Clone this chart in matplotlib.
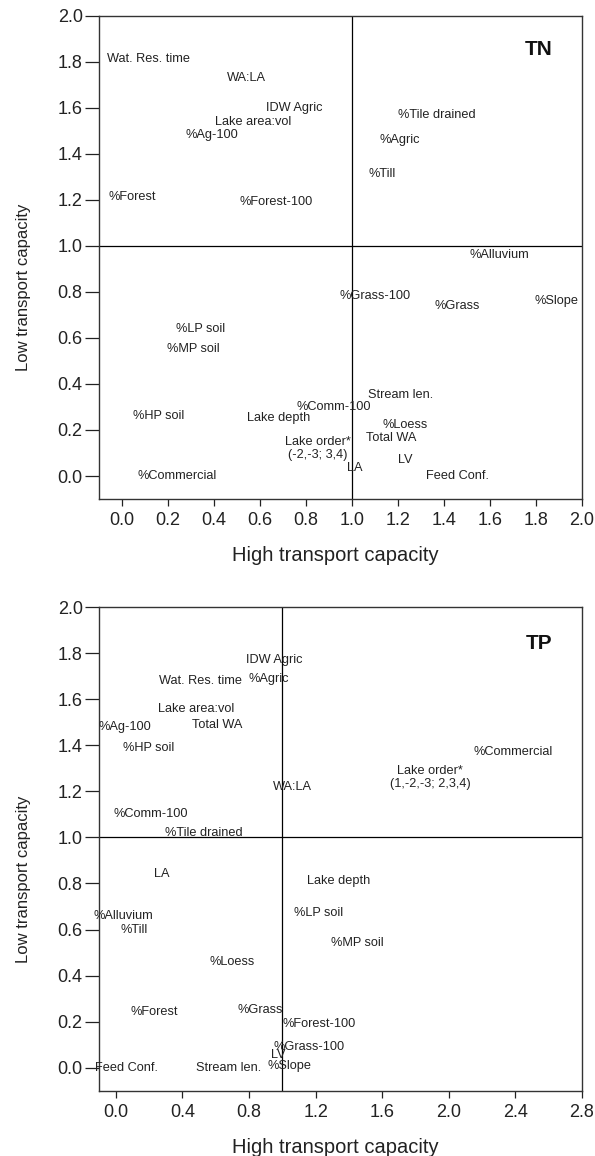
import matplotlib
matplotlib.use('Agg')
import matplotlib.pyplot as plt

plt.rcParams['font.family'] = ['Liberation Sans', 'DejaVu Sans']

# TN panel
tn_labels = ['Wat. Res. time', 'WA:LA', 'IDW Agric', 'Lake area:vol', '%Ag-100',
             '%Forest', '%Forest-100', '%Tile drained', '%Agric', '%Till',
             '%LP soil', '%MP soil', '%HP soil', '%Commercial', 'Lake depth',
             '%Comm-100', 'Lake order*\n(-2,-3; 3,4)', '%Alluvium', '%Grass-100',
             '%Grass', '%Slope', 'Stream len.', '%Loess', 'Total WA', 'LV', 'LA',
             'Feed Conf.']
tn_x = [0.115, 0.54, 0.75, 0.57, 0.39, 0.045, 0.67, 1.37, 1.21, 1.13,
        0.34, 0.31, 0.16, 0.24, 0.68, 0.92, 0.85, 1.64, 1.10, 1.46, 1.89,
        1.21, 1.23, 1.17, 1.23, 1.01, 1.46]
tn_y = [1.81, 1.73, 1.60, 1.54, 1.48, 1.21, 1.19, 1.57, 1.46, 1.31,
        0.64, 0.55, 0.26, 0.00, 0.25, 0.30, 0.12, 0.96, 0.78, 0.74, 0.76,
        0.35, 0.22, 0.165, 0.07, 0.035, 0.00]

# TP panel
tp_labels = ['IDW Agric', '%Agric', 'Wat. Res. time', 'Lake area:vol', 'Total WA',
             '%Ag-100', '%HP soil', 'WA:LA', '%Comm-100', '%Tile drained',
             'Lake order*\n(1,-2,-3; 2,3,4)', '%Commercial', 'LA', '%Alluvium',
             '%Till', '%Loess', '%Forest', '%Grass', '%Forest-100', '%Grass-100',
             'LV', '%Slope', 'Stream len.', 'Feed Conf.', 'Lake depth',
             '%LP soil', '%MP soil']
tp_x = [0.95, 0.92, 0.51, 0.48, 0.61, 0.054, 0.195, 1.06, 0.21, 0.53,
        1.89, 2.39, 0.275, 0.046, 0.108, 0.70, 0.233, 0.87, 1.22, 1.16,
        0.974, 1.046, 0.68, 0.062, 1.34, 1.22, 1.45]
tp_y = [1.77, 1.69, 1.68, 1.56, 1.49, 1.48, 1.39, 1.22, 1.10, 1.02,
        1.26, 1.37, 0.84, 0.66, 0.60, 0.46, 0.24, 0.25, 0.19, 0.09,
        0.053, 0.007, 0.00, 0.00, 0.81, 0.67, 0.54]

tn_xticks = [0.0, 0.2, 0.4, 0.6, 0.8, 1.0, 1.2, 1.4, 1.6, 1.8, 2.0]
tp_xticks = [0.0, 0.4, 0.8, 1.2, 1.6, 2.0, 2.4, 2.8]
yticks = [0.0, 0.2, 0.4, 0.6, 0.8, 1.0, 1.2, 1.4, 1.6, 1.8, 2.0]

fig = plt.figure(figsize=(5.95, 11.56), dpi=100)
ax1 = fig.add_axes([0.1669, 0.5683, 0.8108, 0.4182])
ax2 = fig.add_axes([0.1669, 0.0565, 0.8108, 0.4182])

panels = [
    (ax1, tn_labels, tn_x, tn_y, tn_xticks, (-0.1, 2.0), 'TN', 0.930),
    (ax2, tp_labels, tp_x, tp_y, tp_xticks, (-0.1, 2.8), 'TP', 0.924),
]

for ax, labels, xs, ys, xt, xlim, name, ny in panels:
    ax.set_xlim(*xlim)
    ax.set_ylim(-0.1, 2.0)
    ax.axhline(1.0, color='black', lw=0.9)
    ax.axvline(1.0, color='black', lw=0.9)
    for lab, x, y in zip(labels, xs, ys):
        ax.text(x, y, lab, ha='center', va='center', fontsize=9.2,
                color='#222222', linespacing=1.05)
    ax.text(0.911, ny, name, transform=ax.transAxes, ha='center', va='center',
            fontsize=15, fontweight='bold', color='#111111')
    ax.set_xticks(xt)
    ax.set_xticklabels(['%.1f' % v for v in xt])
    ax.set_yticks(yticks)
    ax.set_yticklabels(['%.1f' % v for v in yticks])
    ax.tick_params(axis='x', direction='out', length=5, width=0.9,
                   labelsize=13, pad=4.5, colors='#222222')
    ax.tick_params(axis='y', direction='out', length=10, width=0.9,
                   labelsize=13, pad=2, colors='#222222')
    for s in ax.spines.values():
        s.set_color('#333333')
        s.set_linewidth(1.0)
    ax.set_xlabel('High transport capacity', fontsize=14.5, color='#222222')
    ax.set_ylabel('Low transport capacity', fontsize=12, color='#222222')
    ax.xaxis.set_label_coords(0.489, -0.117)
    ax.xaxis.label.set_va('center')
    ax.yaxis.set_label_coords(-0.158, 0.437)
    ax.yaxis.label.set_va('center')

fig.savefig('out.png', dpi=100)
